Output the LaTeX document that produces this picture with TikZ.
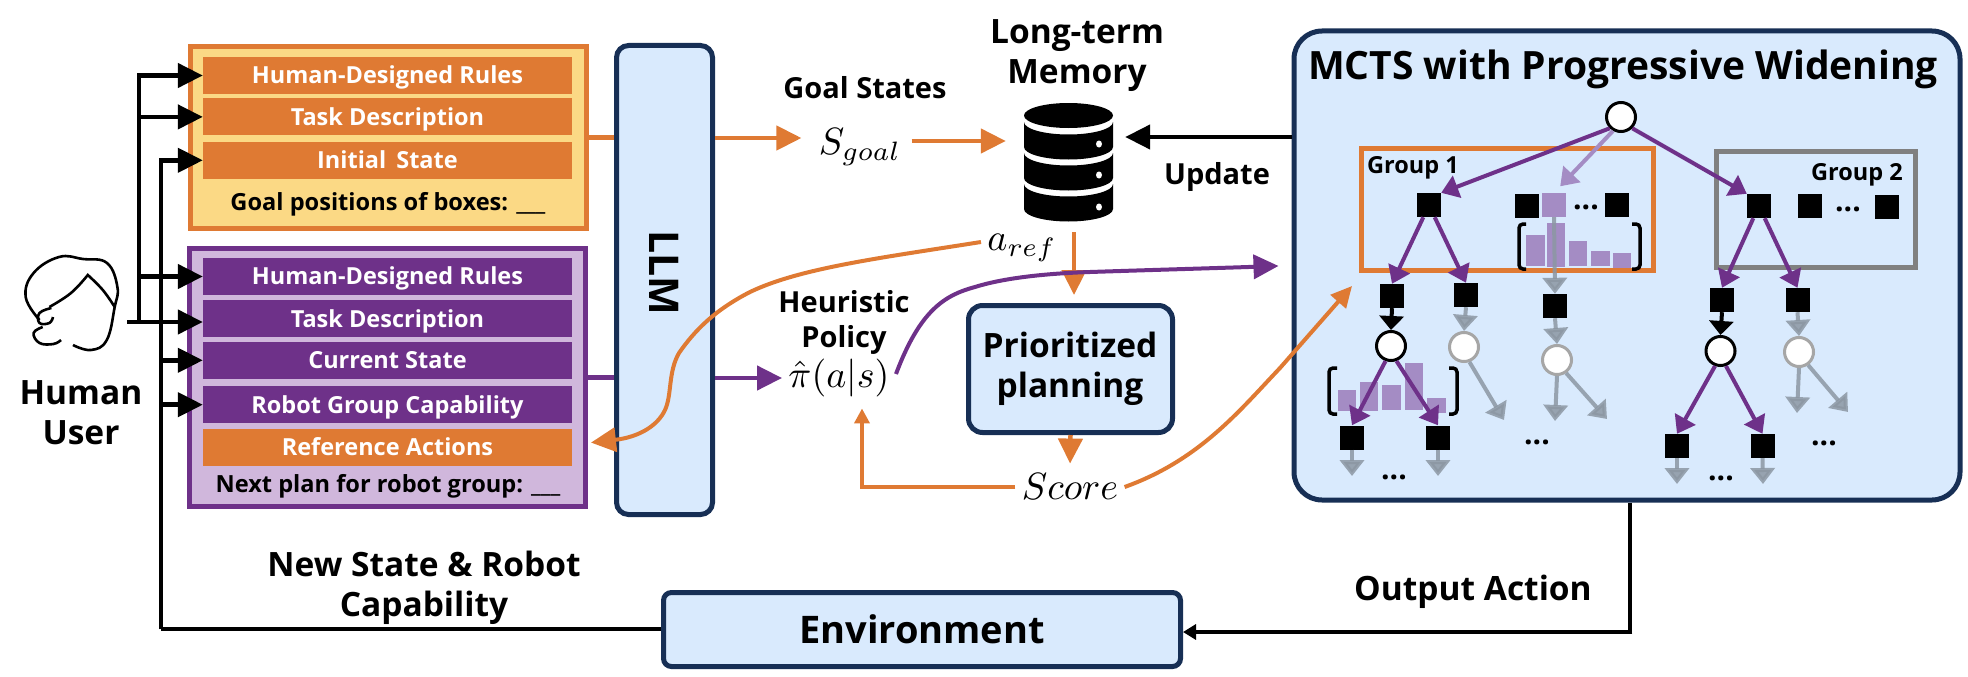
\documentclass[tikz,border=0pt]{standalone}
\usepackage{fontspec}
\setmainfont{Open Sans}
\usetikzlibrary{arrows.meta,positioning}

\definecolor{navy}{HTML}{172F55}
\definecolor{skyfill}{HTML}{D9EAFD}
\definecolor{orangeln}{HTML}{DF7A33}
\definecolor{yellowfill}{HTML}{FBD985}
\definecolor{purpleln}{HTML}{6E3189}
\definecolor{lilacfill}{HTML}{D0B7DC}
\definecolor{barfill}{HTML}{A48CC4}
\definecolor{grayln}{HTML}{8C97A3}

\begin{document}
\begin{tikzpicture}[x=1pt,y=-1pt,>={Triangle[length=25pt,width=24pt]},line join=miter,
  blockbox/.style={draw=navy,line width=5pt,fill=skyfill,rounded corners=12pt,inner sep=0pt},
  rowbox/.style={minimum width=369pt,minimum height=37pt,inner sep=0pt,text=white,text height=16.8pt,text depth=0pt,font=\bfseries\fontsize{23.5}{28}\selectfont},
  orangerow/.style={rowbox,fill=orangeln},
  purplerow/.style={rowbox,fill=purpleln},
  titleL/.style={align=center,font=\bfseries\fontsize{33.5}{40}\selectfont,inner sep=0pt},
  titleM/.style={align=center,font=\bfseries\fontsize{29}{35}\selectfont,inner sep=0pt},
  mathtext/.style={inner sep=1.5pt,scale=3.8},
  blackarrow/.style={->,draw=black,line width=4.5pt},
  orangearrow/.style={->,draw=orangeln,line width=4.5pt},
  purplearrow/.style={->,draw=purpleln,line width=4.5pt},
  smallpurple/.style={-{Triangle[length=17pt,width=23pt]},draw=purpleln,line width=4pt},
  grayarrow/.style={-{Triangle[length=16pt,width=24pt]},draw=grayln,line width=4pt,opacity=.85},
  smallblack/.style={-{Triangle[length=14pt,width=24pt]},draw=black,line width=4pt},
  statesq/.style={fill=black,minimum width=24pt,minimum height=24pt,inner sep=0pt},
  actnode/.style={circle,draw=black,line width=3pt,fill=white,minimum size=29pt,inner sep=0pt},
  grayact/.style={actnode,draw=gray!70},
  threedots/.style={inner sep=0pt,font=\bfseries\fontsize{30}{30}\selectfont},
  groupbox/.style={line width=5pt,minimum width=#1,inner sep=0pt},
  grouplabel/.style={inner sep=0pt,font=\bfseries\fontsize{23.5}{28}\selectfont}]
\useasboundingbox (0,0) rectangle (1968,677);

% human user
\coordinate (userout) at (127,322);
\draw[line width=2.6pt] plot[smooth,tension=.7] coordinates {(39.5,320) (25.7,297) (33.6,273) (59,257) (83,259) (107,263) (117.4,287) (114.7,307) (106.8,340) (91,350) (73,345)};
\draw[line width=2.6pt] plot[smooth,tension=.7] coordinates {(49.4,307) (71,293) (87.8,275)} -- plot[smooth,tension=.7] coordinates {(87.8,275) (102.8,290) (114.7,307)};
\draw[line width=2.6pt] plot[smooth,tension=.7] coordinates {(51.4,308) (39.5,313) (39.5,323) (49.4,323) (53,317)};
\draw[line width=2.6pt] plot[smooth,tension=.7] coordinates {(42.7,327) (33.6,333) (39.5,343) (53.4,344) (61,340)};
\node[titleL] (user) at (81,413) {Human\\User};

% prompt boxes
\node[draw=orangeln,line width=5pt,fill=yellowfill,minimum width=396pt,minimum height=182pt,inner sep=0pt] (goalbox) at (388.5,137.5) {};
\node[orangerow] (rulesA) at (387.5,75.5) {Human-Designed Rules};
\node[orangerow] (taskA) [below=4pt of rulesA] {Task Description};
\node[orangerow] (initA) [below=6pt of taskA] {Initial\, State};
\node[inner sep=0pt,font=\bfseries\fontsize{23.6}{27}\selectfont] (goalq) at (388,204.5) {Goal positions of boxes: \_\_\_};

\node[draw=purpleln,line width=5pt,fill=lilacfill,minimum width=396pt,minimum height=258pt,inner sep=0pt] (planbox) at (387.5,377.5) {};
\node[purplerow] (rulesB) at (387.5,276.5) {Human-Designed Rules};
\node[purplerow] (taskB) [below=5pt of rulesB] {Task Description};
\node[purplerow] (stateB) [below=4pt of taskB] {Current State};
\node[purplerow] (capB) [below=7pt of stateB] {Robot Group Capability};
\node[orangerow] (reference) [below=5pt of capB] {Reference Actions};
\node[inner sep=0pt,font=\bfseries\fontsize{23.6}{27}\selectfont] (nextq) at (388,486) {Next plan for robot group: \_\_\_};

% blocks
\node[blockbox,minimum width=96pt,minimum height=469pt] (llm) at (664.5,280) {};
\node[rotate=-90,inner sep=0pt,font=\bfseries\fontsize{41}{48}\selectfont] (llmtext) at (664,273) {LLM};
\node[blockbox,minimum width=204pt,minimum height=127pt,rounded corners=14pt] (prio) at (1070.5,369) {};
\node[titleL] (priotext) at (1070,369) {Prioritized\\planning};
\node[blockbox,minimum width=517pt,minimum height=74pt,rounded corners=8pt] (env) at (922,629.5) {};
\node[inner sep=0pt,font=\bfseries\fontsize{38}{44}\selectfont] (envtext) at (922,629) {Environment};
\node[blockbox,minimum width=666pt,minimum height=469pt,rounded corners=28pt] (mcts) at (1627,265.5) {};
\node[inner sep=0pt,text height=28pt,text depth=0pt,font=\bfseries\fontsize{39}{46}\selectfont] (mctstext) at (1623,66) {MCTS with Progressive Widening};

% memory
\node[minimum width=89pt,minimum height=119pt,inner sep=0pt] (memory) at (1068.5,162.5) {};
\fill (1068.5,115.5) ellipse[x radius=44.5pt,y radius=12.5pt];
\foreach \disctop/\holey in {122/144,153/175,184/207}{
  \fill (1024,\disctop) -- (1024,\disctop+25) arc[start angle=180,end angle=360,x radius=44.5pt,y radius=12.5pt] -- (1113,\disctop) arc[start angle=0,end angle=-180,x radius=44.5pt,y radius=12.5pt] -- cycle;
  \fill[white] (1099,\holey) ellipse[x radius=3pt,y radius=3.5pt];
}
\node[titleL] (memtitle) at (1077,56) {Long-term\\Memory};

% labels
\node[titleM] (goallabel) at (865,88) {Goal States};
\node[mathtext] (sgoal) at (860,147) {$S_{goal}$};
\node[mathtext] (aref) at (1022,248) {$a_{ref}$};
\node[titleM] (heurlabel) at (844,322) {Heuristic\\Policy};
\node[mathtext] (pihat) at (839,378) {$\hat{\pi}(a|s)$};
\node[mathtext] (score) at (1070,487) {$Score$};
\node[titleM] (updatelabel) at (1217,177) {Update};
\node[titleL] (outlabel) at (1473,592) {Output Action};
\node[titleL] (newlabel) at (424,587.5) {New State \& Robot\\Capability};

% input arrows
\coordinate (trunkA) at (139,322);
\coordinate (trunkB) at (161,629);
\draw[line width=4.5pt] (userout) -- (trunkA);
\draw[blackarrow] (trunkA) |- (rulesA.west);
\draw[blackarrow] (trunkA) |- (taskA.west);
\draw[blackarrow] (trunkA) |- (rulesB.west);
\draw[blackarrow] (trunkA) -- (trunkA -| taskB.west);
\draw[line width=4.5pt] (env.west |- trunkB) -- (trunkB);
\draw[blackarrow] (trunkB) |- (initA.west);
\draw[blackarrow] (trunkB) |- (stateB.west);
\draw[blackarrow] (trunkB) |- (capB.west);

% connectors
\draw[draw=orangeln,line width=4.5pt] (goalbox.east) -- (goalbox.east -| llm.west);
\draw[draw=purpleln,line width=4.5pt] (planbox.east) -- (planbox.east -| llm.west);
\draw[orangearrow,shorten >=11pt] ([yshift=9pt]llm.east |- sgoal.west) -- ([yshift=9pt]sgoal.west);
\draw[orangearrow,shorten <=4pt,shorten >=18pt] ([yshift=6pt]sgoal.east) -- ([yshift=6pt]sgoal.east -| memory.west);
\draw[blackarrow,shorten >=12pt] (mcts.west |- 0,137) -- (memory.east |- 0,137);
\draw[orangearrow,shorten <=10pt,shorten >=8pt] ([xshift=5.5pt]memory.south) -- ([xshift=3.5pt]prio.north);
\draw[purplearrow] (llm.east |- pihat.west) -- (pihat.west);
\draw[orangearrow,shorten >=4pt] (prio.south) -- (score.north);
\draw[orangearrow,-{Triangle[length=15pt,width=15pt]},shorten >=5pt] (score.west) -| ([xshift=23pt]pihat.south);
\draw[orangearrow,line width=4pt] ([yshift=6pt]aref.west) .. controls (880,258) and (800,268) .. (750,292) .. controls (715,310) and (695,330) .. (679,353) .. controls (668,372) and (672,395) .. (665,410) .. controls (658,425) and (640,437) .. ([xshift=3pt,yshift=4.5pt]planbox.east |- reference.east);
\draw[purplearrow,line width=4pt,shorten >=13pt] ([yshift=4pt]pihat.east) .. controls (920,310) and (945,295) .. (975,287) .. controls (1010,276) and (1060,273) .. (1090,272) .. controls (1150,270) and (1220,268) .. (mcts.west);
\coordinate (mctstip) at (1352,286);
\draw[orangearrow,line width=4pt,-{Triangle[length=21pt,width=20pt]}] (score.east) .. controls (1200,460) and (1240,410) .. (1280,368) -- (mctstip);

% tree
\node[draw=orangeln,groupbox=292pt,minimum height=122pt] (groupA) at (1507,209) {};
\node[draw=gray,groupbox=199pt,minimum height=116pt] (groupB) at (1816,209) {};
\node[grouplabel] (groupAtext) at (1413,168) {Group 1};
\node[grouplabel] (groupBtext) at (1857,175) {Group 2};

\node[actnode] (root) at (1621,117) {};
\node[statesq] (sA) at (1429,205) {};
\node[statesq] (sB) at (1527,206) {};
\node[statesq,fill=barfill] (sL) at (1554,205) {};
\node[threedots] (dotsA) at (1586,207) {...};
\node[statesq] (sC) at (1617,205) {};
\node[statesq] (sD) at (1759,206) {};
\node[statesq] (sE) at (1810,205.5) {};
\node[threedots] (dotsB) at (1848,209) {...};
\node[statesq] (sF) at (1887,207) {};

\node[statesq] (sA1) at (1392,296) {};
\node[statesq] (sA2) at (1466,295) {};
\node[statesq] (sL1) at (1555,306) {};
\node[statesq] (sD1) at (1722,300) {};
\node[statesq] (sD2) at (1797.5,300) {};

\node[actnode] (cA1) at (1391,346) {};
\node[grayact] (cA2) at (1464,347) {};
\node[grayact] (cL1) at (1557,360) {};
\node[actnode] (cD1) at (1720.5,351) {};
\node[grayact] (cD2) at (1799,352) {};

\node[statesq] (sA11) at (1352,437.5) {};
\node[statesq] (sA12) at (1438,437.5) {};
\node[statesq] (sD11) at (1677,446) {};
\node[statesq] (sD12) at (1762.5,446) {};
\coordinate (endA2a) at (1504,420);
\coordinate (endL1a) at (1555,421);
\coordinate (endL1b) at (1607,419);
\coordinate (endD2a) at (1797,413);
\coordinate (endD2b) at (1848,412);
\coordinate (endA11) at (1352,476);
\coordinate (endA12) at (1438,476);
\coordinate (endD11) at (1677,484);
\coordinate (endD12) at (1763,484);
\node[threedots] (dotsC) at (1537,442) {...};
\node[threedots] (dotsD) at (1394,477) {...};
\node[threedots] (dotsE) at (1824,443) {...};
\node[threedots] (dotsF) at (1721,478) {...};

% histograms
\foreach \xa/\xb/\ya/\yb in {1526/1545/235/266,1547/1565/223/267,1569/1587/241/266,1591/1610/251/266,1613/1631/253/268,
  1338/1356/390/411,1360/1378/382/411,1382/1401/385/410,1405/1423/363/410,1427/1446/398/413}
  \fill[barfill] (\xa,\ya) rectangle (\xb,\yb);
\draw[line width=3.5pt,rounded corners=4pt] (1526,224) -- (1519,224) -- (1519,269) -- (1526,269);
\draw[line width=3.5pt,rounded corners=4pt] (1632,224) -- (1640,224) -- (1640,269) -- (1632,269);
\draw[line width=3.5pt,rounded corners=4pt] (1337,368) -- (1329,368) -- (1329,414) -- (1337,414);
\draw[line width=3.5pt,rounded corners=4pt] (1449,368) -- (1457,368) -- (1457,414) -- (1449,414);

% tree edges
\draw[smallpurple] (root.south west) -- (sA.north east);
\draw[smallpurple] (root.south east) -- (sD.north west);
\draw[smallpurple,draw=barfill,shorten >=9pt] (root.-120) -- (sL.north);
\draw[smallpurple] (sA.-115) -- (sA1.north);
\draw[smallpurple] (sA.-65) -- (sA2.north);
\draw[smallpurple] (sD.-115) -- (sD1.north);
\draw[smallpurple] (sD.-65) -- (sD2.north);
\draw[smallpurple] (cA1.-110) -- (sA11.north);
\draw[smallpurple] (cA1.-70) -- (sA12.north);
\draw[smallpurple] (cD1.-110) -- (sD11.north);
\draw[smallpurple] (cD1.-70) -- (sD12.north);
\draw[smallblack] (sA1.south) -- (cA1.north);
\draw[smallblack] (sD1.south) -- (cD1.north);
\draw[grayarrow] (sL.south) -- (sL1.north);
\draw[grayarrow] (sA2.south) -- (cA2.north);
\draw[grayarrow] (sL1.south) -- (cL1.north);
\draw[grayarrow] (sD2.south) -- (cD2.north);
\draw[grayarrow] (cA2.-70) -- (endA2a);
\draw[grayarrow] (cL1.south) -- (endL1a);
\draw[grayarrow] (cL1.-55) -- (endL1b);
\draw[grayarrow] (cD2.south) -- (endD2a);
\draw[grayarrow] (cD2.-55) -- (endD2b);
\draw[grayarrow] (sA11.south) -- (endA11);
\draw[grayarrow] (sA12.south) -- (endA12);
\draw[grayarrow] (sD11.south) -- (endD11);
\draw[grayarrow] (sD12.south) -- (endD12);

% output
\coordinate (turn) at (1630,632);
\draw[line width=4.5pt] (mcts.south -| turn) -- (turn);
\draw[-{Triangle[length=13pt,width=15pt]},line width=4.5pt] ([xshift=2.25pt]turn) -- (env.east |- turn);
\end{tikzpicture}
\end{document}
